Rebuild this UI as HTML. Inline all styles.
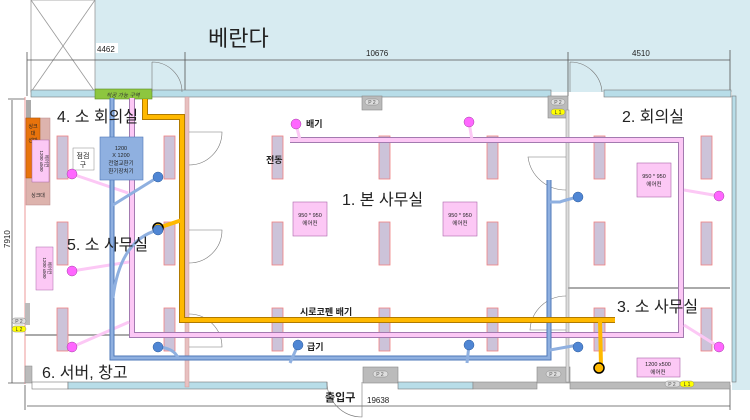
<!DOCTYPE html>
<html><head><meta charset="utf-8"><style>
html,body{margin:0;padding:0;background:#fff}
svg{display:block}
text{font-family:"Liberation Sans","Noto Sans CJK KR",sans-serif}
</style></head><body>
<svg width="750" height="420" viewBox="0 0 750 420" xmlns="http://www.w3.org/2000/svg">
<rect x="95" y="0" width="655" height="92" fill="#d7ebf1"/>
<rect x="732" y="60" width="18" height="330" fill="#d7ebf1"/>
<rect x="31" y="0" width="64" height="92" fill="#fff" stroke="#999" stroke-width="0.8"/>
<line x1="31" y1="0" x2="95" y2="92" stroke="#999" stroke-width="0.8"/>
<line x1="95" y1="0" x2="31" y2="92" stroke="#999" stroke-width="0.8"/>
<text x="208" y="46" font-size="22" fill="#222">베란다</text>
<g stroke="#555" stroke-width="0.8" fill="none">
<line x1="27" y1="60" x2="730" y2="60"/>
<line x1="27" y1="52" x2="27" y2="96"/>
<line x1="185" y1="52" x2="185" y2="96"/>
<line x1="568" y1="52" x2="568" y2="96"/>
<line x1="730" y1="50" x2="730" y2="96"/>
<line x1="12" y1="100" x2="12" y2="383"/>
<line x1="8" y1="99" x2="28" y2="99"/>
<line x1="8" y1="383" x2="28" y2="383"/>
<line x1="27" y1="406" x2="730" y2="406"/>
<line x1="25" y1="385" x2="25" y2="410"/>
<line x1="730" y1="385" x2="730" y2="410"/>
</g>
<rect x="96" y="43" width="22" height="10" fill="#fff"/>
<text x="97" y="52" font-size="8" fill="#222">4462</text>
<text x="366" y="56" font-size="8" fill="#222">10676</text>
<text x="632" y="56" font-size="8" fill="#222">4510</text>
<text x="367" y="403" font-size="8" fill="#222">19638</text>
<text x="0" y="0" font-size="8" fill="#222" transform="translate(10,248) rotate(-90)">7910</text>
<rect x="25" y="96" width="707" height="288" fill="#fff"/>
<rect x="31" y="90" width="520" height="7" fill="#b8dde8" stroke="#777" stroke-width="0.6"/>
<rect x="604" y="90" width="127" height="7" fill="#b8dde8" stroke="#777" stroke-width="0.6"/>
<rect x="732" y="96" width="4" height="286" fill="#b8dde8" stroke="#777" stroke-width="0.6"/>
<rect x="95" y="89" width="57" height="10" fill="#8dc63f" stroke="#5a8a20" stroke-width="0.6"/>
<text x="123" y="97" font-size="5.5" fill="#333" text-anchor="middle" font-style="italic">착공 가능 구역</text>
<rect x="362" y="96" width="20" height="14" fill="#bbb" stroke="#888" stroke-width="0.6"/>
<rect x="365" y="99" width="14" height="6" rx="3" fill="#ddd" stroke="#888" stroke-width="0.5"/>
<text x="372" y="104" font-size="5" text-anchor="middle" fill="#555">P 2</text>
<rect x="548" y="96" width="20" height="22" fill="#bbb" stroke="#888" stroke-width="0.6"/>
<rect x="551" y="99" width="14" height="6" rx="3" fill="#ddd" stroke="#888" stroke-width="0.5"/>
<text x="558" y="104" font-size="5" text-anchor="middle" fill="#555">P 2</text>
<rect x="551" y="109" width="14" height="6" rx="3" fill="#ffff00" stroke="#888" stroke-width="0.5"/>
<text x="558" y="114" font-size="5" text-anchor="middle" fill="#333">L 1</text>
<line x1="25" y1="97" x2="25" y2="384" stroke="#e99" stroke-width="1"/>
<rect x="25" y="303" width="5" height="22" fill="#bbb"/>
<rect x="12" y="318" width="14" height="6" rx="3" fill="#ddd" stroke="#888" stroke-width="0.5"/>
<text x="19" y="323" font-size="5" text-anchor="middle" fill="#555">P 2</text>
<rect x="12" y="326" width="14" height="6" rx="3" fill="#ffff00" stroke="#888" stroke-width="0.5"/>
<text x="19" y="331" font-size="5" text-anchor="middle" fill="#333">L 2</text>
<rect x="25" y="366" width="7" height="17" fill="#bbb" stroke="#888" stroke-width="0.5"/>
<rect x="32" y="382" width="36" height="7" fill="#fff" stroke="#777" stroke-width="0.6"/>
<rect x="68" y="382" width="259" height="7" fill="#b8dde8" stroke="#777" stroke-width="0.6"/>
<rect x="363" y="367" width="35" height="16" fill="#bbb" stroke="#888" stroke-width="0.6"/>
<rect x="398" y="382" width="75" height="7" fill="#b8dde8" stroke="#777" stroke-width="0.6"/>
<rect x="473" y="382" width="64" height="7" fill="#bbb" stroke="#888" stroke-width="0.6"/>
<rect x="537" y="367" width="33" height="16" fill="#bbb" stroke="#888" stroke-width="0.6"/>
<rect x="570" y="382" width="160" height="7" fill="#bbb" stroke="#888" stroke-width="0.6"/>
<rect x="373" y="371" width="15" height="6" rx="3" fill="#ddd" stroke="#888" stroke-width="0.5"/>
<text x="380" y="376" font-size="5" text-anchor="middle" fill="#555">P 2</text>
<rect x="546" y="371" width="15" height="6" rx="3" fill="#ddd" stroke="#888" stroke-width="0.5"/>
<text x="553" y="376" font-size="5" text-anchor="middle" fill="#555">P 2</text>
<rect x="665" y="381" width="15" height="6" rx="3" fill="#ddd" stroke="#888" stroke-width="0.5"/>
<text x="672" y="386" font-size="5" text-anchor="middle" fill="#555">P 2</text>
<rect x="680" y="381" width="14" height="6" rx="3" fill="#ffff00" stroke="#888" stroke-width="0.5"/>
<text x="687" y="386" font-size="5" text-anchor="middle" fill="#333">L 1</text>
<rect x="185" y="97" width="4" height="290" fill="#e8c0c0" stroke="#c99" stroke-width="0.5"/>
<rect x="566" y="110" width="3" height="272" fill="#ddd" stroke="#888" stroke-width="0.5"/>
<line x1="25" y1="335" x2="185" y2="335" stroke="#aaa" stroke-width="2"/>
<line x1="568" y1="288" x2="730" y2="288" stroke="#aaa" stroke-width="2"/>
<g stroke="#777" stroke-width="0.6" fill="none">
<path d="M189 132 H 222 A 33 33 0 0 1 189 165"/>
<path d="M189 230 H 222 A 33 33 0 0 1 189 263"/>
<path d="M189 347 H 222 A 33 33 0 0 0 189 314"/>
<path d="M152 62 V 92 M152 62 A 30 30 0 0 1 182 92"/>
<path d="M570 62 V 92 M570 62 A 32 32 0 0 1 602 92"/>
<path d="M566 157 H 528 A 38 38 0 0 0 566 190"/>
<path d="M566 330 H 530 A 36 36 0 0 1 566 296"/>
<path d="M327 382 A 35 35 0 0 0 362 417 V 382"/>
</g>
<rect x="26" y="100" width="5" height="18" fill="#aaa"/>
<rect x="26" y="118" width="24" height="87" fill="#ddb3ad" stroke="#b88" stroke-width="0.5"/>
<rect x="26" y="118" width="14" height="60" fill="#e8730c" stroke="#a50" stroke-width="0.5"/>
<text x="33" y="128" font-size="5" text-anchor="middle" fill="#222">싱크</text>
<text x="33" y="135" font-size="5" text-anchor="middle" fill="#222">대</text>
<text x="33" y="142" font-size="5" text-anchor="middle" fill="#222">선반</text>
<rect x="32" y="140" width="17" height="42" fill="#fcc8f5" stroke="#a6a" stroke-width="0.5"/>
<text x="0" y="0" font-size="4.5" fill="#222" text-anchor="middle" transform="translate(40,161) rotate(90)">1200 x500</text>
<text x="0" y="0" font-size="4.5" fill="#222" text-anchor="middle" transform="translate(45,161) rotate(90)">에어컨</text>
<text x="38" y="197" font-size="5" text-anchor="middle" fill="#222">싱크대</text>
<rect x="73" y="148" width="21" height="22" fill="#fff" stroke="#888" stroke-width="0.5"/>
<text x="83" y="158" font-size="7" text-anchor="middle" fill="#222">점검</text>
<text x="83" y="167" font-size="7" text-anchor="middle" fill="#222">구</text>
<rect x="36" y="247" width="17" height="43" fill="#fcc8f5" stroke="#a6a" stroke-width="0.5"/>
<text x="0" y="0" font-size="4.5" fill="#222" text-anchor="middle" transform="translate(43,268) rotate(90)">1200 x500</text>
<text x="0" y="0" font-size="4.5" fill="#222" text-anchor="middle" transform="translate(48,268) rotate(90)">에어컨</text>
<g fill="#ccc3d9" stroke="#f08080" stroke-width="0.8">
<rect x="57" y="136" width="11" height="43"/><rect x="164" y="136" width="11" height="43"/>
<rect x="57" y="222" width="11" height="43"/><rect x="164" y="222" width="11" height="43"/>
<rect x="57" y="308" width="11" height="43"/><rect x="164" y="308" width="11" height="43"/>
<rect x="272" y="136" width="11" height="43"/><rect x="379" y="136" width="11" height="43"/><rect x="487" y="136" width="11" height="43"/>
<rect x="272" y="222" width="11" height="43"/><rect x="379" y="222" width="11" height="43"/><rect x="487" y="222" width="11" height="43"/>
<rect x="272" y="308" width="11" height="43"/><rect x="379" y="308" width="11" height="43"/><rect x="487" y="308" width="11" height="43"/>
<rect x="594" y="136" width="11" height="43"/><rect x="701" y="136" width="11" height="43"/>
<rect x="594" y="222" width="11" height="43"/><rect x="701" y="222" width="11" height="43"/>
<rect x="594" y="308" width="11" height="43"/><rect x="701" y="308" width="11" height="43"/>
</g>
<g fill="#fcc8f5" stroke="#a6a" stroke-width="0.6">
<rect x="293" y="202" width="34" height="34"/><rect x="443" y="202" width="34" height="34"/>
<rect x="637" y="163" width="34" height="34"/><rect x="637" y="358" width="43" height="19"/>
</g>
<g font-size="5.5" fill="#222" text-anchor="middle">
<text x="310" y="217">950 * 950</text><text x="310" y="225">에어컨</text>
<text x="460" y="217">950 * 950</text><text x="460" y="225">에어컨</text>
<text x="654" y="178">950 * 950</text><text x="654" y="186">에어컨</text>
<text x="658" y="366">1200 x500</text><text x="658" y="374">에어컨</text>
</g>
<g stroke="#a37ab0" stroke-width="6" fill="none"><path d="M132 98 V 335 H 681 V 140 H 290"/></g>
<g stroke="#fcc8f5" stroke-width="4" fill="none"><path d="M132 98 V 335 H 681 V 140 H 290"/></g>
<g stroke="#fcc8f5" stroke-width="3" fill="none">
<path d="M296 124 L 300 140"/><path d="M469 122 L 472 140"/>
<path d="M72 174 L 128 193"/><path d="M72 271 L 129 262"/><path d="M72 347 L 129 322"/>
<path d="M719 196 L 684 190"/><path d="M719 347 L 684 325"/>
</g>
<g stroke="#4f79b8" stroke-width="5" fill="none"><path d="M112 98 V 358 H 549 V 180"/></g>
<g stroke="#8fb0e0" stroke-width="3" fill="none"><path d="M112 98 V 358 H 549 V 180"/></g>
<g stroke="#8fb0e0" stroke-width="3" fill="none">
<path d="M158 177 L 113 205"/><path d="M158 230 Q 120 240 113 298"/><path d="M158 347 Q 174 348 178 358"/>
<path d="M298 345 L 290 363"/><path d="M469 345 L 467 363"/>
<path d="M578 345 L 550 350"/><path d="M578 197 Q 565 200 560 202 L 550 202"/>
</g>
<rect x="100" y="137" width="43" height="43" fill="#8fb0e0" stroke="#4f79b8" stroke-width="0.6"/>
<g font-size="5.5" fill="#222" text-anchor="middle">
<text x="121" y="150">1200</text><text x="121" y="157">X 1200</text>
<text x="121" y="165">전열교환기</text><text x="121" y="173">환기장치기</text></g>
<g stroke="#b07a00" stroke-width="6" fill="none"><path d="M145 99 V 117 H 182 V 320 H 615"/></g>
<g stroke="#ffb900" stroke-width="4" fill="none"><path d="M145 99 V 117 H 182 V 320 H 615"/>
<path d="M600 320 L 601 366"/><path d="M158 228 L 182 220"/></g>
<circle cx="158" cy="228" r="5" fill="#ffb900" stroke="#000" stroke-width="1.5"/>
<circle cx="599" cy="368" r="5" fill="#ffb900" stroke="#000" stroke-width="1.5"/>
<g fill="#ff66ff" stroke="#a040a0" stroke-width="0.5">
<circle cx="296" cy="124" r="5"/><circle cx="469" cy="122" r="5"/>
<circle cx="72" cy="174" r="5"/><circle cx="72" cy="271" r="5"/><circle cx="72" cy="347" r="5"/>
<circle cx="719" cy="196" r="5"/><circle cx="719" cy="347" r="5"/>
</g>
<g fill="#4f86d4" stroke="#2d5a9a" stroke-width="0.5">
<circle cx="158" cy="177" r="5"/><circle cx="158" cy="230" r="5"/><circle cx="158" cy="347" r="5"/>
<circle cx="298" cy="345" r="5"/><circle cx="469" cy="345" r="5"/>
<circle cx="578" cy="197" r="5"/><circle cx="578" cy="347" r="5"/>
</g>
<g font-size="16" fill="#222">
<text x="57" y="122">4. 소 회의실</text>
<text x="67" y="250">5. 소 사무실</text>
<text x="42" y="378">6. 서버, 창고</text>
<text x="342" y="205">1. 본 사무실</text>
<text x="622" y="122">2. 회의실</text>
<text x="617" y="312">3. 소 사무실</text>
</g>
<g font-size="9" font-weight="bold" fill="#222">
<text x="306" y="127">배기</text>
<text x="266" y="163">전동</text>
<text x="300" y="315">시로코펜 배기</text>
<text x="307" y="350">급기</text>
</g>
<text x="325" y="401" font-size="11" font-weight="bold" fill="#222">출입구</text>
</svg>
</body></html>
